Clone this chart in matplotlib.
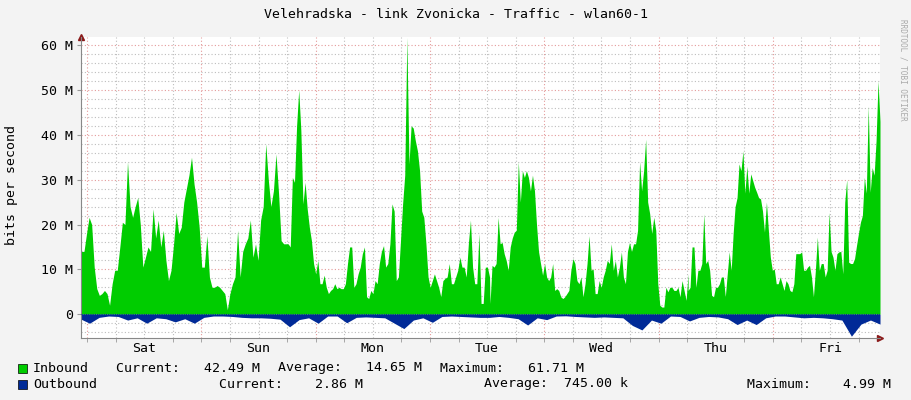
import numpy as np
import matplotlib
matplotlib.use("Agg")
import matplotlib.pyplot as plt

# Inbound traffic (Mbit/s), read in four consecutive segments; hours since Sat 00:00
seg1_hours = (-1.75, 41.8)
seg1 = [29,14,14,18,21.6,20,10.5,5.7,4.2,4.6,5.3,4.6,2,6.8,9.8,9.8,15,20.5,20,34,24,21.6,24,26,20,10.5,12.7,15,14,23.5,
        17,21,15,18.7,12,7.5,9.8,15.7,22.7,18,19.4,25,28,31,35,29,25,19.4,10.5,10.5,17.5,8.3,6,6,6.4,6,5.3,4.6,1,4.6,
        6.8,8.3,18.7,8.3,14,15.7,17,21,12.7,15.7,12,21,24,38,30,24,27.5,35.7,27,16.4,15.7,15.7]
seg2_hours = (42.2, 84.5)
seg2 = [15.7,15,30.5,29.4,42,50,41,24.6,29.4,23.5,19.4,16.4,11.3,9,12,6.8,6.8,8.7,6,4.6,5.3,5.7,6.8,5.7,6,5.7,5.7,6.8,
        11.3,15,15,6,6.8,9,10.5,13.5,15,3.9,3.5,5.3,4.6,7.5,6.8,11.3,14,15.3,10.5,11.3,15.7,24.6,23,7.5,8.3,16.4,24.6,
        31,61.7,33.5,42,41.5,38.7,36.4,32,23,21.6,15.7,8.3,6,7.5,9,7.5,6,3.9,7.5,8,8.3,11.3,6.8,6.8,8.3,9.8,12.7,10.5,
        10.5,8.3,15.7,21,10.5,6.8,6.8,18,2.4,2.4,10.5,10.5,8.3]
seg3_hours = (84.6, 126.2)
seg3 = [2.4,10.9,10.5,11.3,21.6,15.7,16,13.5,12,9.8,15,17,18.3,18.7,34,25,32,30.5,32,30.5,27.5,31,27.5,20,14,11.3,8.7,
        11.3,8.3,7.5,8.3,11.3,5.3,5.7,5.3,3.9,3.5,3.9,4.6,5.3,9.8,12.4,11.3,7.5,6.8,8.3,3.9,6.8,11.3,17.5,9.8,10.1,4.6,
        4.6,7.5,6,8.3,9.8,12,11.3,15.7,9.8,12,8.3,10.5,13.9,8.3,6.8,14,16,14,15.7,15.7,18.7,34,27.5,32,39,25,22.4,18,
        21.6,18.7,6.8,2,1.6,1.6,6,5,6,6,5.3,5.3,6,3.9,7.5,5.3,3.1,9]
seg4_hours = (126.2, 166.5)
seg4 = [5.3,6,15,15,6,9.8,9.8,11.3,22.4,11.3,12,9.8,4.2,3.9,6,6,6.8,8.3,8.3,3.9,9,13.9,9.8,18,24,26,33.5,32,36.4,27,
        33,27,31.3,29.8,28.3,27.2,26,25.7,23,18.3,25,18.7,12.7,9.8,10.1,6.8,6.8,8.3,6.8,5.3,7.5,6.8,5.3,5,6.8,13.5,13.5,
        13.5,13.9,9.8,9.8,10.5,10.9,8.3,3.9,9.8,17.2,9.8,11.3,11.3,8.3,9.8,22.7,14,12.7,9.8,13.5,13.9,14,9,25,30,11.6,
        11.3,11.3,12.4,15.3,18,20.5,22,30.5,27,46.4,27.2,32.7,31,38.7,52,43]

# Outbound traffic (Mbit/s) every 2 hours from -1.5 h
out_start, out_step = -1.5, 2.0
outbound = [1.0,2.0,0.7,0.4,0.5,1.3,0.8,2.0,0.8,1.0,1.7,1.0,2.0,0.7,0.4,0.4,0.5,0.7,0.8,0.8,0.9,1.1,2.8,1.2,0.8,2.0,
            0.4,0.4,1.9,0.7,0.6,0.7,0.8,2.0,3.2,1.3,0.8,1.8,0.5,0.4,0.5,0.6,0.7,0.7,0.5,0.7,1.0,2.4,0.8,1.2,0.4,0.35,
            0.5,0.6,0.7,0.6,0.7,0.8,2.5,3.5,1.3,2.0,0.4,0.5,1.5,0.7,0.5,0.6,1.0,2.3,1.3,2.3,0.8,0.4,0.4,0.6,0.8,0.7,
            0.8,1.0,1.3,4.9,2.2,1.3,2.2]

day_labels = ["Sat", "Sun", "Mon", "Tue", "Wed", "Thu", "Fri"]
y_ticks = [0, 10, 20, 30, 40, 50, 60]
y_labels = ["0", "10 M", "20 M", "30 M", "40 M", "50 M", "60 M"]

legend_in = ["Inbound", "Current:   42.49 M", "Average:   14.65 M", "Maximum:   61.71 M"]
legend_out = ["Outbound", "Current:    2.86 M", "Average:  745.00 k", "Maximum:    4.99 M"]

GREEN = "#00CC00"
BLUE = "#002A97"
MONO = "DejaVu Sans Mono"

W, H = 911, 400
fig = plt.figure(figsize=(W / 100, H / 100), dpi=100, facecolor="#F3F3F3")
ax = fig.add_axes([81 / W, (H - 338) / H, (880 - 81) / W, (338 - 37) / H])
ax.set_facecolor("white")

xmin, xmax = -1.3, 166.5
ax.set_xlim(xmin, xmax)
ax.set_ylim(-5.3, 61.8)

t_in, v_in = [], []
for (a, b), seg in [(seg1_hours, seg1), (seg2_hours, seg2), (seg3_hours, seg3), (seg4_hours, seg4)]:
    t_in.extend(np.linspace(a, b, len(seg)))
    v_in.extend(seg)
t_in = np.array(t_in); v_in = np.array(v_in)
ax.fill_between(t_in, 0, v_in, color=GREEN, lw=0, zorder=2)

t_out = out_start + out_step * np.arange(len(outbound))
ax.fill_between(t_out, 0, -np.array(outbound), color=BLUE, lw=0, zorder=2)

# grids
for y in np.arange(-4, 62, 2):
    major = (y % 10 == 0)
    ax.axhline(y, color="#E49A9A" if major else "#BDBDBD", lw=0.8, ls=(0, (1, 2)), zorder=1)
for h in np.arange(0, 168, 6):
    major = (h % 24 == 0)
    ax.axvline(h, color="#E49A9A" if major else "#BDBDBD", lw=0.8, ls=(0, (1, 2)), zorder=1)
ax.axhline(0, color=BLUE, lw=0.8, ls=(0, (1, 1)), zorder=3)

ax.set_yticks(y_ticks)
ax.set_yticklabels(y_labels, fontsize=9.5, family=MONO)
ax.set_xticks([12 + 24 * i for i in range(7)])
ax.set_xticklabels(day_labels, fontsize=9.5, family=MONO)
ax.set_xticks(np.arange(0, 168, 6), minor=True)
ax.tick_params(axis="both", which="both", length=3, color="#999999", pad=3)
ax.tick_params(axis="x", which="major", length=0)
for s in ["top", "right"]:
    ax.spines[s].set_visible(False)
for s in ["left", "bottom"]:
    ax.spines[s].set_color("#888888")
    ax.spines[s].set_linewidth(0.8)
ax.plot([1], [0], marker=">", color="#8B1A1A", ms=4, transform=ax.transAxes, clip_on=False)
ax.plot([0], [1], marker="^", color="#8B1A1A", ms=4, transform=ax.transAxes, clip_on=False)

fig.text(0.5, 1 - 15 / H, "Velehradska - link Zvonicka - Traffic - wlan60-1", ha="center", va="center",
         fontsize=9.5, family=MONO)
fig.text(12 / W, 1 - 185 / H, "bits per second", rotation=90, ha="center", va="center", fontsize=9.5, family=MONO)
fig.text(903 / W, 1 - 70 / H, "RRDTOOL / TOBI OETIKER", rotation=270, ha="center", va="center",
         fontsize=5.5, family=MONO, color="#AAAAAA")

def px(x, y):
    return x / W, 1 - y / H

for ypix, color, items, xs in [(368, GREEN, legend_in, [33, 116, 278, 440]),
                               (384, BLUE, legend_out, [33, 219, 484, 747])]:
    fig.patches.append(plt.Rectangle(px(18, ypix + 5), 9 / W, 9 / H, transform=fig.transFigure,
                                     facecolor=color, edgecolor="black", lw=0.5))
    for x, txt in zip(xs, items):
        fig.text(*px(x, ypix), txt, ha="left", va="center", fontsize=9.5, family=MONO)

fig.savefig("out.png", dpi=100, facecolor=fig.get_facecolor())
